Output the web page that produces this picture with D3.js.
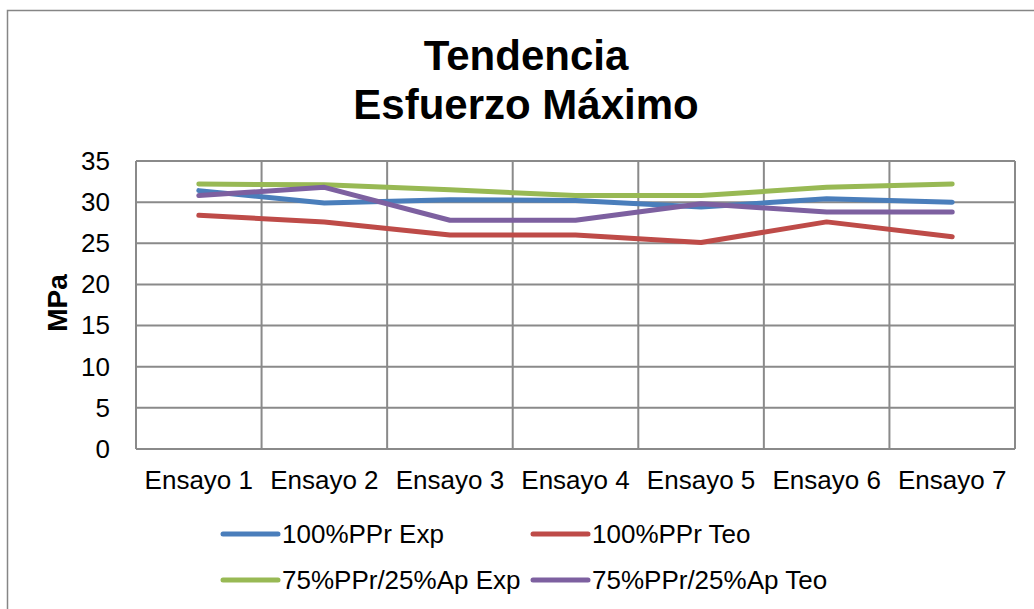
<!DOCTYPE html>
<html>
<head>
<meta charset="utf-8">
<script src="https://cdn.jsdelivr.net/npm/d3@7"></script>
<style>
  body { margin: 0; background: #fff; }
  svg text { font-family: "Liberation Sans", Arial, sans-serif; fill: #000; }
</style>
</head>
<body>
<div id="chart"></div>
<script>
// categories and series
var categories = ["Ensayo 1", "Ensayo 2", "Ensayo 3", "Ensayo 4", "Ensayo 5", "Ensayo 6", "Ensayo 7"];
var ppr100Exp = [31.4, 29.9, 30.3, 30.2, 29.4, 30.4, 30.0];
var ppr100Teo = [28.4, 27.6, 26.0, 26.0, 25.1, 27.6, 25.8];
var ppr75Exp = [32.2, 32.1, 31.5, 30.8, 30.8, 31.8, 32.2];
var ppr75Teo = [30.8, 31.8, 27.8, 27.8, 29.8, 28.8, 28.8];
var seriesNames = ["100%PPr Exp", "100%PPr Teo", "75%PPr/25%Ap Exp", "75%PPr/25%Ap Teo"];
var seriesColors = ["#4a7ebb", "#be4b48", "#98b954", "#7d60a0"];
var yTicks = [0, 5, 10, 15, 20, 25, 30, 35];

var series = [ppr100Exp, ppr100Teo, ppr75Exp, ppr75Teo].map(function(v, i) {
  return { name: seriesNames[i], color: seriesColors[i], values: v };
});

var width = 1034, height = 609;
var m = { top: 161, right: 19, bottom: 160, left: 136 };
var gridColor = "#8a8a8a";

var svg = d3.select("#chart").append("svg")
  .attr("width", width)
  .attr("height", height);

// outer chart frame (runs off the right and bottom edge)
svg.append("rect")
  .attr("x", 7.5).attr("y", 10.5)
  .attr("width", 1100).attr("height", 700)
  .attr("fill", "none")
  .attr("stroke", "#868686")
  .attr("stroke-width", 1.5);

// title
svg.append("text")
  .attr("x", 526).attr("y", 70)
  .attr("text-anchor", "middle")
  .style("font-size", "42px").style("font-weight", "bold")
  .text("Tendencia");
svg.append("text")
  .attr("x", 526).attr("y", 119)
  .attr("text-anchor", "middle")
  .style("font-size", "42px").style("font-weight", "bold")
  .text("Esfuerzo Máximo");

var x = d3.scaleBand()
  .domain(categories)
  .range([m.left, width - m.right]);
var y = d3.scaleLinear()
  .domain([0, 35])
  .range([height - m.bottom, m.top]);

var g = svg.append("g");

// horizontal grid
g.append("g")
  .selectAll("line")
  .data(yTicks)
  .enter()
  .append("line")
  .attr("x1", m.left).attr("x2", width - m.right)
  .attr("y1", function(d) { return y(d); })
  .attr("y2", function(d) { return y(d); })
  .attr("stroke", gridColor).attr("stroke-width", 2);

// vertical grid at category boundaries
var bounds = categories.map(function(c) { return x(c); }).concat([width - m.right]);
g.append("g")
  .selectAll("line")
  .data(bounds)
  .enter()
  .append("line")
  .attr("x1", function(d) { return d; })
  .attr("x2", function(d) { return d; })
  .attr("y1", m.top).attr("y2", height - m.bottom)
  .attr("stroke", gridColor).attr("stroke-width", 2);

// y axis labels
var yAxis = d3.axisLeft(y).tickValues(yTicks).tickSize(0).tickPadding(26);
g.append("g")
  .attr("transform", "translate(" + m.left + ",0)")
  .call(yAxis)
  .call(function(s) { s.select(".domain").remove(); })
  .selectAll("text")
  .style("font-size", "26px")
  .style("font-family", "Liberation Sans, Arial, sans-serif");

// x axis labels
var xAxis = d3.axisBottom(x).tickSize(0).tickPadding(22);
g.append("g")
  .attr("transform", "translate(0," + (height - m.bottom) + ")")
  .call(xAxis)
  .call(function(s) { s.select(".domain").remove(); })
  .selectAll("text")
  .style("font-size", "26px")
  .style("font-family", "Liberation Sans, Arial, sans-serif");

// axis title
svg.append("text")
  .attr("transform", "translate(67,303) rotate(-90)")
  .attr("text-anchor", "middle")
  .style("font-size", "28px").style("font-weight", "bold")
  .text("MPa");

// lines
var line = d3.line()
  .x(function(d, i) { return x(categories[i]) + x.bandwidth() / 2; })
  .y(function(d) { return y(d); });

g.append("g")
  .selectAll("path")
  .data(series)
  .enter()
  .append("path")
  .attr("d", function(d) { return line(d.values); })
  .attr("fill", "none")
  .attr("stroke", function(d) { return d.color; })
  .attr("stroke-width", 5)
  .attr("stroke-linecap", "round")
  .attr("stroke-linejoin", "round");

// legend, two columns
var legend = svg.append("g")
  .selectAll("g")
  .data(series)
  .enter()
  .append("g")
  .attr("transform", function(d, i) {
    return "translate(" + (223 + (i % 2) * 310) + "," + (534 + Math.floor(i / 2) * 46) + ")";
  });
legend.append("line")
  .attr("x1", 0).attr("x2", 55)
  .attr("stroke", function(d) { return d.color; })
  .attr("stroke-width", 5)
  .attr("stroke-linecap", "round");
legend.append("text")
  .attr("x", 59).attr("y", 9)
  .style("font-size", "26px")
  .text(function(d) { return d.name; });
</script>
</body>
</html>
